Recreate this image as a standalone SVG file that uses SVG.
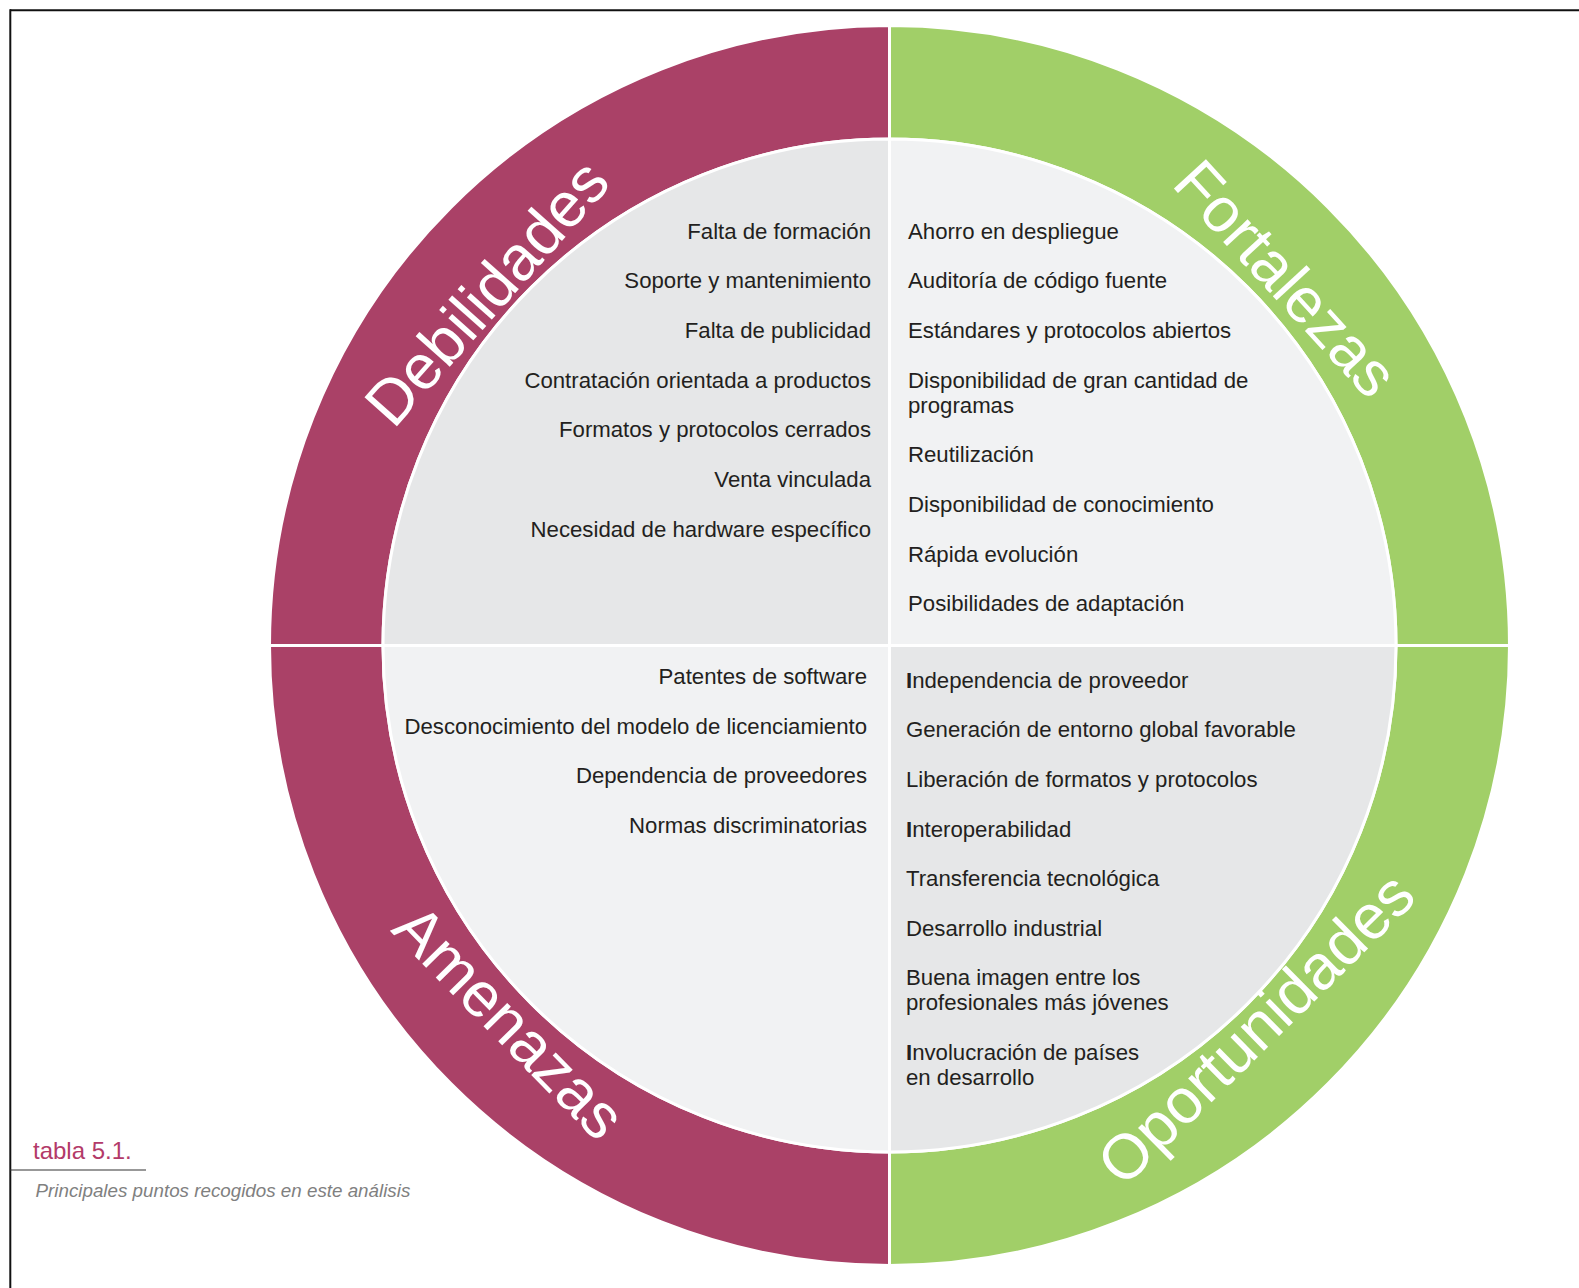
<svg xmlns="http://www.w3.org/2000/svg" width="1579" height="1288" viewBox="0 0 1579 1288">
<style>
.ring{stroke:#fff;stroke-width:3}
.mag{fill:#aa4167}
.grn{fill:#a1cf68}
.gd{fill:#e6e7e8;stroke:#fff;stroke-width:3}
.gl{fill:#f1f2f3;stroke:#fff;stroke-width:3}
.title{font-family:"Liberation Sans",Arial,Helvetica,sans-serif;font-size:63px;fill:#fff;text-anchor:middle}
.item{font-family:"Liberation Sans",Arial,Helvetica,sans-serif;font-size:22.2px;fill:#231f20}
.r{text-anchor:end}
.b{font-weight:bold}
</style>
<rect x="0" y="0" width="1579" height="1288" fill="#fff"/>
<g id="frame">
<line x1="10" y1="10.3" x2="1579" y2="10.3" stroke="#111" stroke-width="2"/>
<line x1="10.3" y1="9.3" x2="10.3" y2="1288" stroke="#111" stroke-width="2"/>
</g>
<g id="debilidades">
<path class="ring mag" d="M269.5,645.5 A620,620 0 0 1 889.5,25.5 L889.5,139 A506.5,506.5 0 0 0 383,645.5 Z"/>
<path class="gd" d="M889.5,645.5 L383,645.5 A506.5,506.5 0 0 1 889.5,139 Z"/>
<text class="title" transform="translate(503,307) rotate(-48.3)">Debilidades</text>
<g class="item r">
<text x="871" y="238.5">Falta de formación</text>
<text x="871" y="288.2">Soporte y mantenimiento</text>
<text x="871" y="337.9">Falta de publicidad</text>
<text x="871" y="387.6">Contratación orientada a productos</text>
<text x="871" y="437.3">Formatos y protocolos cerrados</text>
<text x="871" y="487">Venta vinculada</text>
<text x="871" y="536.7">Necesidad de hardware específico</text>
</g>
</g>
<g id="fortalezas">
<path class="ring grn" d="M889.5,25.5 A620,620 0 0 1 1509.5,645.5 L1396,645.5 A506.5,506.5 0 0 0 889.5,139 Z"/>
<path class="gl" d="M889.5,645.5 L889.5,139 A506.5,506.5 0 0 1 1396,645.5 Z"/>
<text class="title" transform="translate(1270,293) rotate(47.4)">Fortalezas</text>
<g class="item">
<text x="908" y="238.5">Ahorro en despliegue</text>
<text x="908" y="288.2">Auditoría de código fuente</text>
<text x="908" y="337.9">Estándares y protocolos abiertos</text>
<text x="908" y="387.6">Disponibilidad de gran cantidad de</text>
<text x="908" y="412.8">programas</text>
<text x="908" y="462.3">Reutilización</text>
<text x="908" y="512">Disponibilidad de conocimiento</text>
<text x="908" y="561.5">Rápida evolución</text>
<text x="908" y="611.2">Posibilidades de adaptación</text>
</g>
</g>
<g id="amenazas">
<path class="ring mag" d="M889.5,1265.5 A620,620 0 0 1 269.5,645.5 L383,645.5 A506.5,506.5 0 0 0 889.5,1152 Z"/>
<path class="gl" d="M889.5,645.5 L889.5,1152 A506.5,506.5 0 0 1 383,645.5 Z"/>
<text class="title" transform="translate(494,1037) rotate(45.5)">Amenazas</text>
<g class="item r">
<text x="867" y="683.5">Patentes de software</text>
<text x="867" y="733.5">Desconocimiento del modelo de licenciamiento</text>
<text x="867" y="783">Dependencia de proveedores</text>
<text x="867" y="833">Normas discriminatorias</text>
</g>
</g>
<g id="oportunidades">
<path class="ring grn" d="M1509.5,645.5 A620,620 0 0 1 889.5,1265.5 L889.5,1152 A506.5,506.5 0 0 0 1396,645.5 Z"/>
<path class="gd" d="M889.5,645.5 L1396,645.5 A506.5,506.5 0 0 1 889.5,1152 Z"/>
<text class="title" transform="translate(1271,1044) rotate(-44.5)">Oportunidades</text>
<g class="item">
<text x="906" y="687.5"><tspan class="b">I</tspan>ndependencia de proveedor</text>
<text x="906" y="737">Generación de entorno global favorable</text>
<text x="906" y="786.5">Liberación de formatos y protocolos</text>
<text x="906" y="836.5"><tspan class="b">I</tspan>nteroperabilidad</text>
<text x="906" y="886">Transferencia tecnológica</text>
<text x="906" y="935.5">Desarrollo industrial</text>
<text x="906" y="984.5">Buena imagen entre los</text>
<text x="906" y="1009.5">profesionales más jóvenes</text>
<text x="906" y="1060"><tspan class="b">I</tspan>nvolucración de países</text>
<text x="906" y="1084.5">en desarrollo</text>
</g>
</g>
<g id="connectors"/>
<g id="caption">
<text x="33" y="1159" font-family="'Liberation Sans',Arial,Helvetica,sans-serif" font-size="24" fill="#b33a69">tabla 5.1.</text>
<line x1="10" y1="1170" x2="146" y2="1170" stroke="#333" stroke-width="1.2"/>
<text x="35.5" y="1196.5" font-family="'Liberation Sans',Arial,Helvetica,sans-serif" font-size="18.8" font-style="italic" fill="#808080">Principales puntos recogidos en este análisis</text>
</g>
</svg>
